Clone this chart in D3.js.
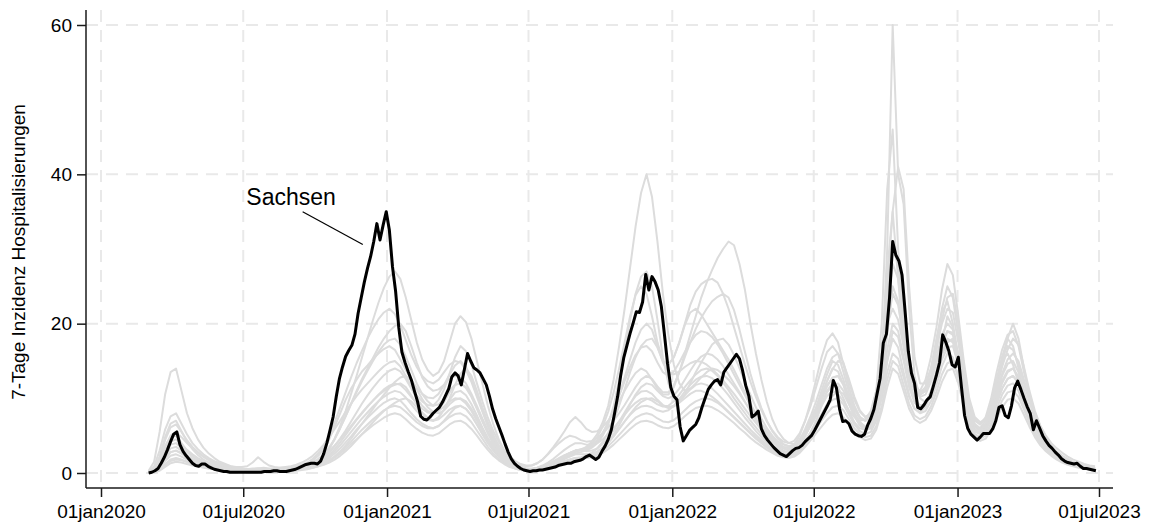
<!DOCTYPE html>
<html>
<head>
<meta charset="utf-8">
<script src="https://cdn.jsdelivr.net/npm/d3@7"></script>
<style>
  html, body { margin: 0; padding: 0; background: #ffffff; }
  svg { display: block; font-family: "Liberation Sans", Arial, Helvetica, sans-serif; }
</style>
</head>
<body>
<svg id="chart" width="1149" height="524"></svg>
<script>
// ---- Data -------------------------------------------------------------
// Sachsen: 7-day hospitalisation incidence, one value every 4 days from 2020-03-02
const sachsenStart = "2020-03-02";
const sachsenStepDays = 4;
const sachsen = [
  0, 0.1, 0.3, 0.6, 1.3, 2.1, 3.1, 4.2, 5.2, 5.5,
  3.8, 2.9, 2.3, 1.8, 1.3, 1.0, 0.9, 1.2, 1.2, 0.9,
  0.7, 0.5, 0.4, 0.3, 0.2, 0.2, 0.1, 0.1, 0.1, 0.1,
  0.1, 0.1, 0.1, 0.1, 0.1, 0.1, 0.1, 0.2, 0.2, 0.2,
  0.3, 0.3, 0.2, 0.2, 0.2, 0.3, 0.4, 0.5, 0.7, 0.9,
  1.1, 1.2, 1.3, 1.3, 1.2, 1.6, 2.6, 4.0, 5.7, 7.5,
  10.2, 12.6, 14.2, 15.6, 16.4, 17.1, 18.6, 21.4, 23.5, 25.6,
  27.4, 29.0, 31.0, 33.4, 31.2, 33.2, 35.0, 32.5, 27.6, 24.3,
  19.5, 16.2, 14.8, 13.6, 12.5, 11.0, 9.6, 7.6, 7.2, 7.1,
  7.5, 8.0, 8.4, 8.8, 9.5, 10.4, 11.3, 12.9, 13.4, 13.0,
  11.8, 13.9, 16.0, 15.0, 14.1, 13.8, 13.4, 12.6, 11.8, 10.3,
  8.6, 7.3, 6.2, 5.1, 3.9, 2.8, 1.9, 1.3, 0.9, 0.6,
  0.4, 0.3, 0.2, 0.3, 0.3, 0.4, 0.4, 0.5, 0.6, 0.7,
  0.8, 1.0, 1.1, 1.2, 1.3, 1.3, 1.5, 1.6, 1.7, 1.9,
  2.2, 2.4, 2.1, 1.8, 2.1, 2.9, 3.6, 4.5, 5.8, 7.9,
  10.2, 13.1, 15.5, 17.1, 18.7, 20.1, 21.6, 21.5, 22.9, 26.6,
  24.5, 26.3, 25.6, 24.5, 22.3, 18.5, 14.6, 11.5, 10.3, 9.8,
  6.2, 4.3, 5.0, 5.7, 6.1, 6.5, 7.4, 8.8, 10.0, 11.2,
  11.8, 12.3, 12.5, 11.8, 13.5, 14.1, 14.7, 15.3, 15.9, 15.3,
  13.7, 11.7, 10.3, 7.5, 7.8, 8.3, 5.9, 5.0, 4.4, 3.9,
  3.4, 3.0, 2.6, 2.4, 2.2, 2.6, 3.0, 3.3, 3.4, 3.7,
  4.2, 4.6, 5.0, 5.7, 6.5, 7.3, 8.1, 8.9, 9.8, 12.4,
  11.4, 8.6, 6.9, 7.0, 6.6, 5.6, 5.2, 5.0, 4.9, 5.2,
  6.4, 7.3, 8.5, 10.6, 12.7, 17.4, 18.6, 23.5, 31.0, 29.2,
  28.4, 26.5, 21.5, 16.3, 13.4, 12.0, 8.8, 8.6, 9.1, 9.8,
  10.2, 11.6, 13.1, 14.8, 18.5, 17.5, 16.3, 14.5, 14.2, 15.5,
  11.5, 7.7, 6.0, 5.2, 4.8, 4.4, 4.8, 5.3, 5.3, 5.3,
  5.9, 7.0, 8.8, 9.0, 7.7, 7.4, 9.0, 11.4, 12.3, 11.2,
  10.0, 8.9, 8.0, 5.8, 7.0, 6.0, 5.0, 4.3, 3.7, 3.3,
  2.8, 2.4, 1.9, 1.6, 1.4, 1.3, 1.2, 1.3, 0.9, 0.6,
  0.6, 0.5, 0.4, 0.3
];

// Remaining Bundesländer: weekly values from 2020-03-02
const othersStart = "2020-03-02";
const othersStepDays = 7;
const otherStates = [
  [ // 1
    0.3,1.5,5.5,10.5,13.5,14,11,8,6,4.5,3.4,2.6,2,1.5,1.2,0.9,0.7,0.6,0.5,0.5,0.6,0.5,0.4,0.4,0.4,0.5,0.6,0.8,1,1.3,
    1.7,2.3,3.2,4.5,6.2,8,9.8,11.3,12.5,13.6,14.4,15.3,16,16.6,17,16.5,15.2,13.8,12.5,11.4,10.6,10.1,10,10.6,11.8,13.2,14.4,15,14.2,12.6,10.5,8.4,6.3,4.6,3.2,2.1,1.4,0.9,0.6,
    0.4,0.35,0.4,0.5,0.7,1,1.4,1.9,2.3,2.6,2.8,3,3.4,4,5,6.5,9,12.5,16.5,20.5,24,26.3,27,25,20.5,15.5,12,10,9.6,10.5,12,13.5,14.8,16,17.2,17.8,18,17.2,15.8,14,12.2,10.5,8.8,7.3,6,5,4.2,3.8,3.6,3.8,4.5,5.6,
    7,8.8,11,13.2,15,14.5,12.5,10,8,6.8,6.2,6.5,8.5,14,30,60,40,36,22,13,10,9.5,10.5,13.5,17.5,21,19.5,15,10.5,7.5,6.2,6,7,9.5,12.5,15,16,14.5,12,9.5,7.5,6,4.8,3.8,3,2.4,1.9,1.5,1.2,1,0.8,0.6,0.5
  ],
  [ // 2
    0.1,0.5,1.8,3.6,4.8,5,4,3,2.3,1.7,1.3,1,0.8,0.6,0.5,0.4,0.3,0.3,0.2,0.2,0.3,0.3,0.2,0.2,0.3,0.3,0.4,0.5,0.7,0.9,
    1.2,1.6,2.2,3.2,4.6,6.3,8.3,10.6,13,15.5,18,20.5,22.8,24.8,26.3,27,26,23.5,20.5,17.5,15.2,13.8,13,13.5,15,17.5,20,21,20.2,18,15,12,9,6.5,4.5,3,2,1.3,0.9,
    0.6,0.5,0.5,0.6,0.8,1.1,1.5,2,2.4,2.8,3.1,3.5,4.2,5.2,6.8,9,12.5,17,22,27.5,33,37.5,40,37,31,24,18.5,14.5,12,11,11.3,12,12.8,13.5,14,13.8,13.2,12.5,11.6,10.6,9.5,8.4,7.3,6.2,5.3,4.5,3.8,3.3,3,3.1,3.6,4.4,
    5.5,7,9,11,12,11.5,10,8.3,6.8,6,5.8,6.5,9,16,27,35,26,17,13,11,10.5,11.5,14,18,21.5,23,20,15.5,10.5,7,5.5,5.2,6,8.5,12,15.5,18,17,14,11,8.5,6.5,5,4,3.2,2.6,2.1,1.7,1.4,1.1,0.9,0.7,0.6
  ],
  [ // 3
    0.2,0.8,1.8,3,3.8,4,3.4,2.8,2.2,1.8,1.5,1.2,1,0.8,0.7,0.6,0.5,0.5,0.5,0.6,0.6,0.7,0.6,0.6,0.7,0.8,0.9,1.1,1.4,1.8,
    2.3,3,3.8,4.8,5.9,7,8.2,9.3,10.3,11.2,12,12.8,13.6,14.3,14.8,15,14.3,13,11.6,10.4,9.6,9.1,9,9.8,11.2,13.3,15.5,17,16.3,14.5,12,9.6,7.4,5.6,4.2,3,2.2,1.6,1.2,
    1,1,1.3,1.8,2.6,3.5,4.5,5.6,6.8,7.5,6.8,5.9,5.5,5.6,6.2,7,8.2,9.6,11,12.3,13.4,14,13.6,12.5,11.3,10.5,10.5,11.5,13.5,16,18.5,21,23.5,25.5,27.2,28.8,30,31,30.5,28,24.5,20,16,12.5,9.5,7.2,5.6,4.6,4,3.9,4.3,5.2,
    6.3,7.6,9,10.3,11,10.6,9.6,8.4,7.5,7,7.2,8.3,11,15.5,20,22,20.5,17,13.5,11.5,11,12.5,15.5,19.5,24.5,28,26.5,21,15,10,7.5,6.8,7.3,9,11.5,14.5,18,20,18,14,10.5,8,6.3,5,4,3.3,2.7,2.2,1.8,1.5,1.2,1,0.9
  ],
  [ // 4
    0.2,0.9,3,5.8,7.6,8,6.6,5.2,4,3.2,2.5,2,1.6,1.3,1.1,0.9,0.8,0.8,0.9,1.4,2.1,1.5,1,0.8,0.7,0.7,0.8,0.9,1.1,1.4,
    1.9,2.6,3.6,5,6.8,8.8,10.8,12.8,14.7,16.4,18,19.4,20.6,21.5,22,21.3,19.8,17.8,15.8,14.2,13,12.3,12,12.5,13.5,14.5,15,14.8,13.8,12.2,10.2,8.2,6.3,4.7,3.4,2.4,1.7,1.2,0.8,
    0.6,0.6,0.7,0.9,1.2,1.6,2,2.4,2.7,3,3.2,3.4,3.9,4.8,6.2,8.2,10.8,14,17.5,21,23.8,25,24,21,17.5,15,14.5,15.5,17.5,20,22.5,24.3,25.3,25.8,26,25.5,24,22,19.5,17,14.5,12.2,10.2,8.4,6.9,5.7,4.8,4.2,4,4.3,5.3,7,
    9,11.5,14,16.2,17,16,13.5,10.8,8.7,7.5,7,7.5,10,16,25,35,41,38,25,15.5,12,12,14,17.5,22,25,23.5,18.5,13,9,7,6.5,7.5,10,13.5,16.5,18.5,19,17,13.5,10.5,8,6,4.6,3.6,2.8,2.2,1.8,1.4,1.1,0.9,0.7,0.6
  ],
  [ // 5
    0.1,0.6,2.2,4.8,6.6,7,5.6,4.2,3.2,2.4,1.8,1.4,1.1,0.9,0.7,0.6,0.5,0.4,0.4,0.4,0.5,0.5,0.4,0.4,0.4,0.5,0.6,0.7,0.9,1.1,
    1.4,1.8,2.4,3.3,4.5,6,7.6,9.3,11,12.6,14,15.4,16.8,18,19,19.7,20,19,17,14.8,12.8,11.6,11,11.2,11.8,12.6,13,12.8,12,10.6,9,7.3,5.7,4.3,3.1,2.2,1.5,1,0.7,
    0.5,0.4,0.5,0.6,0.8,1,1.3,1.6,1.8,2,2.1,2.3,2.7,3.3,4.2,5.4,7,9,11.2,13.5,15.5,17,17.8,18,16.8,15,14.5,15.5,17.5,19.8,21.5,22,21.2,20,18.8,17.6,16.4,15.2,13.8,12.3,10.8,9.3,7.9,6.6,5.5,4.6,3.9,3.5,3.4,3.8,5,7,
    9.5,12.5,15.5,17.8,18.7,17.5,14.5,11.5,9,7.5,7,7.5,10,15,22,28,26,20,14.5,11.5,10.5,11,13,16.5,20.5,23.5,24,20,14,9.5,7.2,6.5,7.2,9.5,12.5,15.5,17,16.5,14.5,12,9.5,7.3,5.6,4.3,3.4,2.7,2.1,1.7,1.3,1,0.8,0.6,0.5
  ],
  [ // 6
    0.1,0.5,2,4.4,6.1,6.5,5.5,4.4,3.5,2.8,2.2,1.7,1.3,1,0.8,0.6,0.5,0.4,0.3,0.3,0.3,0.3,0.3,0.3,0.3,0.4,0.5,0.6,0.7,0.9,
    1.1,1.4,1.8,2.4,3.2,4.1,5.1,6.1,7.1,8,8.9,9.7,10.5,11.2,11.7,12,11.8,11.1,10.2,9.3,8.6,8.1,8,8.5,9.5,10.8,11.8,12,11.4,10.2,8.6,6.9,5.3,3.9,2.8,1.9,1.3,0.9,0.6,
    0.4,0.3,0.4,0.5,0.7,0.9,1.2,1.5,1.7,1.9,2,2.1,2.4,2.8,3.4,4.2,5.2,6.4,7.8,9.2,10.5,11.5,12,11.8,11,10.3,10,10.4,11.3,12.5,13.7,14.8,15.6,16,15.8,15.2,14.3,13.2,12,10.8,9.5,8.3,7.1,6,5,4.2,3.5,3,2.8,3,3.8,5,
    6.5,8.3,10.3,12.3,14,13.6,11.8,9.6,7.8,6.6,6,6.3,8,12,18.5,25,23,17.5,12.5,10,9,9.3,11,13.8,17,19,18.5,15.5,11,7.6,5.8,5.3,6,8,10.5,13,14.6,15,13.5,11,8.5,6.5,5,3.9,3.1,2.5,2,1.6,1.3,1,0.8,0.6,0.5
  ],
  [ // 7
    0.1,0.4,1.5,3.5,5,5.5,4.8,4,3.3,2.7,2.2,1.8,1.5,1.2,1,0.8,0.7,0.6,0.5,0.5,0.5,0.5,0.4,0.4,0.4,0.5,0.6,0.7,0.8,1,
    1.2,1.5,2,2.7,3.6,4.6,5.7,6.9,8.1,9.3,10.4,11.4,12.3,13.1,13.7,14,13.6,12.6,11.3,10,9,8.3,8,8.3,8.9,9.6,10,9.9,9.3,8.3,7,5.7,4.4,3.3,2.4,1.7,1.2,0.8,0.6,
    0.5,0.5,0.7,1,1.4,1.9,2.5,3.1,3.6,4,4,3.8,3.8,4,4.5,5.2,6,6.9,7.8,8.7,9.4,9.9,10,9.7,9.2,8.9,9,9.6,10.5,11.5,12.4,13.2,13.8,14,13.7,13,12.1,11.1,10,9,8,7,6.1,5.2,4.4,3.7,3.2,2.8,2.7,3,3.8,5,
    6.4,8,9.8,11.6,12.8,13,11.8,9.8,8,6.8,6.2,6.4,8,11.5,16.5,20,19,15.5,12,9.8,9,9.3,10.8,13.2,16,18,17.5,14.5,10.5,7.5,5.8,5.3,5.8,7.5,9.8,12,13.5,14,12.8,10.5,8.3,6.4,5,3.9,3.1,2.5,2,1.6,1.3,1.1,0.9,0.7,0.6
  ],
  [ // 8
    0.1,0.4,1.4,3,4.2,4.5,3.8,3.1,2.5,2,1.6,1.3,1,0.8,0.7,0.6,0.5,0.4,0.4,0.3,0.3,0.3,0.3,0.3,0.3,0.4,0.4,0.5,0.6,0.8,
    1,1.3,1.7,2.2,2.9,3.7,4.6,5.5,6.4,7.3,8.1,8.9,9.6,10.2,10.7,11,10.8,10.1,9.2,8.3,7.6,7.1,7,7.5,8.5,9.8,10.8,11,10.4,9.2,7.7,6.1,4.7,3.5,2.5,1.7,1.2,0.8,0.6,
    0.4,0.4,0.5,0.7,1,1.4,1.8,2.3,2.7,3,3,2.9,3,3.3,3.9,4.7,5.7,6.9,8.1,9.3,10.3,10.9,11,10.6,9.8,9.1,8.8,9,9.6,10.4,11.2,11.8,12,11.8,11.3,10.6,9.8,9,8.2,7.4,6.6,5.8,5.1,4.4,3.8,3.3,2.9,2.6,2.5,2.7,3.3,4.2,
    5.3,6.5,7.8,9,9.8,10,9.2,7.8,6.5,5.6,5.2,5.5,7,10.5,15,18,16.8,13.5,10.5,8.6,8,8.3,9.6,11.8,14.3,16,15.5,12.8,9.3,6.7,5.2,4.8,5.3,6.7,8.6,10.5,11.7,12,11,9,7.1,5.5,4.3,3.3,2.6,2.1,1.7,1.4,1.1,0.9,0.7,0.6,0.5
  ],
  [ // 9
    0.1,0.3,1,2.3,3.3,3.5,3,2.4,1.9,1.5,1.2,1,0.8,0.6,0.5,0.4,0.4,0.3,0.3,0.3,0.3,0.3,0.2,0.2,0.3,0.3,0.4,0.5,0.6,0.7,
    0.9,1.1,1.5,2,2.6,3.3,4.1,4.9,5.8,6.6,7.4,8.1,8.8,9.4,9.8,10,9.7,8.9,8,7.2,6.6,6.2,6,6.3,7,7.9,8.7,9,8.6,7.7,6.5,5.2,4,3,2.2,1.5,1.1,0.8,0.5,
    0.4,0.4,0.4,0.6,0.8,1.1,1.5,1.9,2.2,2.5,2.5,2.5,2.6,2.9,3.4,4.1,5,5.9,6.9,7.8,8.5,8.9,9,8.8,8.4,8.2,8.4,9,9.9,10.9,11.8,12.5,12.9,13,12.7,12.1,11.3,10.4,9.4,8.4,7.4,6.5,5.6,4.8,4.1,3.5,3,2.7,2.6,2.9,3.7,5,
    6.4,7.9,9.4,10.8,11.8,12,11,9.3,7.6,6.4,5.8,6,7.3,10,13.5,16,15.3,12.8,10.2,8.6,8.2,8.8,10.5,12.8,15.2,16.8,17,14.5,10.8,7.6,5.8,5.2,5.7,7.2,9.3,11.3,12.6,13,12,10,7.9,6.1,4.7,3.6,2.8,2.2,1.8,1.4,1.1,0.9,0.7,0.6,0.4
  ],
  [ // 10
    0,0.2,0.8,1.9,2.8,3,2.6,2.1,1.7,1.4,1.1,0.9,0.7,0.6,0.5,0.4,0.3,0.3,0.2,0.2,0.2,0.2,0.2,0.2,0.2,0.3,0.3,0.4,0.5,0.6,
    0.8,1,1.3,1.7,2.2,2.8,3.5,4.2,5,5.8,6.5,7.2,7.8,8.4,8.8,9,8.8,8.2,7.5,6.8,6.3,6,6,6.3,6.9,7.5,7.9,8,7.6,6.8,5.7,4.6,3.5,2.6,1.9,1.3,0.9,0.6,0.4,
    0.3,0.3,0.3,0.4,0.6,0.8,1.1,1.4,1.7,1.9,2,2,2.2,2.5,3,3.6,4.3,5.1,5.9,6.7,7.4,7.8,8,7.8,7.3,6.9,6.8,7.1,7.7,8.4,9.1,9.6,9.9,10,9.8,9.4,8.8,8.1,7.4,6.7,6,5.3,4.6,4,3.4,2.9,2.5,2.2,2.1,2.3,2.9,3.8,
    4.8,5.9,7,8,8.8,9,8.4,7.2,6,5.2,4.8,5,6.3,9,12.5,15,14.3,11.8,9.3,7.7,7.2,7.6,8.9,10.9,13.2,14.7,15,12.8,9.5,6.8,5.2,4.6,5,6.3,8,9.7,10.8,11,10.2,8.5,6.7,5.2,4,3.1,2.4,1.9,1.5,1.2,1,0.8,0.6,0.5,0.4
  ],
  [ // 11
    0.1,0.3,0.9,2,2.8,3,2.7,2.3,1.9,1.6,1.3,1.1,0.9,0.8,0.7,0.6,0.5,0.5,0.4,0.5,0.6,0.6,0.5,0.5,0.5,0.6,0.7,0.8,1,1.2,
    1.5,1.9,2.4,3,3.7,4.5,5.4,6.3,7.2,8.1,8.9,9.7,10.4,11,11.5,11.8,12,11.5,10.4,9.2,8.1,7.4,7,7.4,8.5,10,11.8,13.3,14,13,11,8.8,6.8,5.1,3.7,2.7,2,1.5,1.1,
    0.9,1,1.3,1.8,2.5,3.3,4,4.6,5,4.8,4.4,4.2,4.3,4.7,5.3,6.1,7,8,9.1,10.3,11.5,12.5,13,12.6,11.6,10.8,10.8,11.8,13.5,15.5,17.5,19.3,20.8,22,23,23.6,24,23.5,21.8,19.2,16.2,13.3,10.8,8.7,7,5.6,4.6,3.9,3.6,3.7,4.4,5.6,
    7,8.6,10.2,11.7,12.7,13,12,10.2,8.5,7.3,7,7.8,10.5,16,23.5,30,28,21.5,15.5,12,10.8,11.5,13.8,16.8,20,22,21.5,17.5,12.5,8.6,6.6,6,6.6,8.6,11.3,14.2,16.5,18,17.2,14.2,11,8.3,6.3,4.8,3.7,2.9,2.3,1.9,1.5,1.2,1,0.8,0.7
  ],
  [ // 12
    0,0.2,0.7,1.6,2.3,2.5,2.2,1.8,1.5,1.2,1,0.8,0.6,0.5,0.4,0.3,0.3,0.2,0.2,0.2,0.2,0.2,0.2,0.2,0.2,0.3,0.4,0.5,0.7,1,
    1.3,1.8,2.5,3.4,4.6,6,7.6,9.2,10.8,12.3,13.7,15,16.2,17.2,17.8,18,17.2,15.6,13.8,12,10.6,9.6,9,9.2,10,11.1,11.8,12,11.5,10.3,8.7,7,5.4,4,2.9,2,1.4,1,0.7,
    0.5,0.5,0.6,0.8,1.1,1.5,1.9,2.3,2.7,3,3.1,3.2,3.6,4.3,5.3,6.7,8.4,10.3,12.3,14.2,15.8,16.8,17,16.3,14.8,13.5,13,13.6,14.8,16.2,17.5,18.5,19,18.8,18.2,17.2,16,14.6,13.2,11.8,10.4,9,7.8,6.6,5.6,4.7,4,3.5,3.3,3.5,4.4,5.9,
    7.6,9.6,11.8,14,15.5,16,14.8,12.3,9.8,8.2,7.5,8,11,20,38,46,30,19,14,11.5,10.5,11,12.8,15.5,18.5,20,19.2,15.8,11.5,8.1,6.3,5.7,6.2,7.9,10.2,12.4,13.7,14,12.9,10.7,8.4,6.5,5,3.9,3.1,2.5,2,1.6,1.3,1,0.8,0.6,0.5
  ],
  [ // 13
    0,0.1,0.5,1.2,1.8,2,1.8,1.5,1.2,1,0.8,0.6,0.5,0.4,0.3,0.3,0.2,0.2,0.2,0.2,0.2,0.2,0.1,0.1,0.2,0.2,0.3,0.3,0.4,0.5,
    0.7,0.9,1.2,1.6,2.1,2.6,3.2,3.9,4.5,5.2,5.8,6.4,6.9,7.4,7.8,8,7.8,7.2,6.5,5.9,5.4,5.1,5,5.3,5.9,6.5,6.9,7,6.6,5.9,5,4,3.1,2.3,1.7,1.2,0.8,0.6,0.4,
    0.3,0.3,0.3,0.4,0.6,0.8,1.1,1.4,1.7,1.9,2,2,2.1,2.3,2.7,3.2,3.8,4.5,5.2,5.9,6.5,6.9,7,6.8,6.4,6.1,6,6.3,6.9,7.6,8.2,8.7,8.9,9,8.8,8.4,7.9,7.3,6.7,6,5.4,4.7,4.1,3.6,3.1,2.7,2.3,2.1,2,2.2,2.7,3.5,
    4.4,5.3,6.2,7.1,7.8,8,7.5,6.5,5.5,4.8,4.4,4.6,5.8,8.3,11.5,14,13.3,11,8.6,7.2,6.7,7.1,8.3,10.1,12.2,13.7,14,12,8.9,6.4,4.9,4.3,4.6,5.8,7.3,8.8,9.8,10,9.3,7.8,6.2,4.8,3.7,2.9,2.3,1.8,1.4,1.1,0.9,0.7,0.6,0.5,0.3
  ],
  [ // 14
    0,0.1,0.4,1,1.6,1.8,1.7,1.5,1.3,1.1,0.9,0.8,0.7,0.6,0.5,0.4,0.4,0.3,0.3,0.3,0.3,0.3,0.3,0.3,0.3,0.3,0.4,0.4,0.5,0.6,
    0.7,0.9,1.1,1.4,1.8,2.3,2.9,3.6,4.4,5.2,6,6.8,7.6,8.3,8.9,9.4,9.8,10,9.6,8.8,7.9,7.3,7,7.2,7.8,8.5,8.9,9,8.6,7.7,6.5,5.3,4.1,3.1,2.3,1.6,1.1,0.8,0.6,
    0.4,0.4,0.4,0.5,0.7,0.9,1.2,1.5,1.8,2,2,2.1,2.3,2.7,3.3,4,4.9,5.9,6.9,7.9,8.8,9.5,9.9,10,9.6,9,8.7,8.9,9.4,10,10.6,11,11,10.7,10.2,9.6,8.9,8.2,7.5,6.8,6.1,5.4,4.8,4.2,3.6,3.1,2.7,2.4,2.3,2.5,3.1,4.1,
    5.3,6.6,7.9,9.2,10.3,11,10.6,9.2,7.6,6.4,5.8,6,7.4,10.6,15,19,18.2,15,11.5,9.4,8.7,9.2,10.9,13.3,15.8,17.5,18,15.5,11.5,8.1,6.2,5.5,5.9,7.4,9.4,11.3,12.6,13,12.1,10.1,8,6.2,4.8,3.7,2.9,2.3,1.8,1.4,1.1,0.9,0.7,0.6,0.4
  ],
  [ // 15
    0,0.1,0.3,0.8,1.3,1.5,1.4,1.2,1,0.9,0.7,0.6,0.5,0.4,0.4,0.3,0.3,0.2,0.2,0.2,0.2,0.2,0.2,0.2,0.2,0.3,0.3,0.4,0.5,0.6,
    0.8,1,1.3,1.7,2.2,2.9,3.7,4.6,5.6,6.6,7.6,8.6,9.6,10.5,11.4,12.2,12.8,13,12.4,11.2,9.9,8.8,8.2,8,8.4,9.2,9.8,10,9.6,8.6,7.3,5.9,4.6,3.5,2.6,1.9,1.3,0.9,0.6,
    0.5,0.4,0.5,0.7,0.9,1.3,1.7,2.2,2.6,3,3.1,3.3,3.7,4.4,5.4,6.8,8.5,10.5,12.8,15.2,17.5,19.2,20,19.2,17,14.8,13.5,13.2,13.6,14.2,14.7,15,14.9,14.5,13.9,13.2,12.4,11.5,10.6,9.6,8.6,7.6,6.7,5.8,5,4.3,3.7,3.3,3.1,3.3,4.1,5.4,
    7,8.7,10.5,12.3,13.9,15,14.6,12.6,10.2,8.4,7.5,7.8,9.8,14,19.5,24,22.5,18,13.8,11.2,10.2,10.5,12.2,14.8,17.3,19,18.8,15.8,11.8,8.4,6.5,5.8,6.4,8.3,10.8,13.3,15.2,16,15,12.5,9.8,7.5,5.8,4.4,3.4,2.7,2.2,1.8,1.4,1.1,0.9,0.7,0.6
  ]
];

// Axis ticks
const xTickDates  = ["2020-01-01", "2020-07-01", "2021-01-01", "2021-07-01",
                     "2022-01-01", "2022-07-01", "2023-01-01", "2023-07-01"];
const xTickLabels = ["01jan2020", "01jul2020", "01jan2021", "01jul2021",
                     "01jan2022", "01jul2022", "01jan2023", "01jul2023"];
const yTicks = [0, 20, 40, 60];
const yTitle = "7-Tage Inzidenz Hospitalisierungen";

// Label for the highlighted state and its leader line (data coordinates)
const highlightName = "Sachsen";
const labelAt  = { date: "2020-07-05", value: 35.9 };
const leaderFrom = { date: "2020-09-15", value: 35.0 };
const leaderTo   = { date: "2020-12-01", value: 30.6 };

// ---- Drawing ----------------------------------------------------------
const parse = d3.utcParse("%Y-%m-%d");
const svg = d3.select("#chart");

const frame = { left: 86, right: 1113, top: 10, bottom: 488 };

const x = d3.scaleUtc()
  .domain([parse("2020-01-01"), parse("2023-07-01")])
  .range([101, 1099]);
const y = d3.scaleLinear()
  .domain([0, 60])
  .range([473, 25]);

svg.append("rect").attr("width", 1149).attr("height", 524).attr("fill", "#ffffff");

// dashed grid
const grid = svg.append("g")
  .attr("stroke", "#e9e9e9")
  .attr("stroke-width", 2)
  .attr("stroke-dasharray", "12,8");
grid.selectAll("line.h").data(yTicks).join("line")
  .attr("class", "h")
  .attr("x1", frame.left).attr("x2", frame.right)
  .attr("y1", d => y(d)).attr("y2", d => y(d));
grid.selectAll("line.v").data(xTickDates).join("line")
  .attr("class", "v")
  .attr("x1", d => x(parse(d))).attr("x2", d => x(parse(d)))
  .attr("y1", frame.top).attr("y2", frame.bottom);

const line = d3.line()
  .x(d => x(d.date))
  .y(d => y(d.value));

function toSeries(values, start, step) {
  const t0 = parse(start);
  return values.map((v, i) => ({ date: d3.utcDay.offset(t0, i * step), value: v }));
}

// other states in light grey
svg.append("g").selectAll("path")
  .data(otherStates.map(s => toSeries(s, othersStart, othersStepDays)))
  .join("path")
  .attr("d", line)
  .attr("fill", "none")
  .attr("stroke", "#dcdcdc")
  .attr("stroke-width", 2)
  .attr("stroke-linejoin", "round");

// Sachsen in black
svg.append("path")
  .datum(toSeries(sachsen, sachsenStart, sachsenStepDays))
  .attr("d", line)
  .attr("fill", "none")
  .attr("stroke", "#000000")
  .attr("stroke-width", 3)
  .attr("stroke-linejoin", "round");

// axes
const axisColor = "#1a1a1a";
const yAxis = svg.append("g")
  .attr("transform", `translate(${frame.left},0)`)
  .call(d3.axisLeft(y).tickValues(yTicks).tickSize(9).tickPadding(5).tickFormat(d3.format("d")));
yAxis.select(".domain").remove();

const xAxis = svg.append("g")
  .attr("transform", `translate(0,${frame.bottom})`)
  .call(d3.axisBottom(x)
    .tickValues(xTickDates.map(parse))
    .tickSize(9).tickPadding(8)
    .tickFormat((d, i) => xTickLabels[i]));
xAxis.select(".domain").remove();

[yAxis, xAxis].forEach(g => {
  g.selectAll(".tick line").attr("stroke", axisColor).attr("stroke-width", 1.5);
  g.selectAll(".tick text")
    .attr("fill", "#000")
    .style("font-size", "19px")
    .style("font-family", '"Liberation Sans", Arial, Helvetica, sans-serif');
});

svg.append("line")
  .attr("x1", frame.left).attr("x2", frame.left)
  .attr("y1", frame.top).attr("y2", frame.bottom)
  .attr("stroke", axisColor).attr("stroke-width", 1.5);
svg.append("line")
  .attr("x1", frame.left).attr("x2", frame.right)
  .attr("y1", frame.bottom).attr("y2", frame.bottom)
  .attr("stroke", axisColor).attr("stroke-width", 1.5);

// y-axis title
svg.append("text")
  .attr("transform", "translate(25,252) rotate(-90)")
  .attr("text-anchor", "middle")
  .style("font-size", "19px")
  .attr("fill", "#000")
  .text(yTitle);

// highlight label with leader line
svg.append("text")
  .attr("x", x(parse(labelAt.date)))
  .attr("y", y(labelAt.value))
  .style("font-size", "23px")
  .attr("fill", "#000")
  .text(highlightName);
svg.append("line")
  .attr("x1", x(parse(leaderFrom.date))).attr("y1", y(leaderFrom.value))
  .attr("x2", x(parse(leaderTo.date))).attr("y2", y(leaderTo.value))
  .attr("stroke", "#000").attr("stroke-width", 1.2);
</script>
</body>
</html>
